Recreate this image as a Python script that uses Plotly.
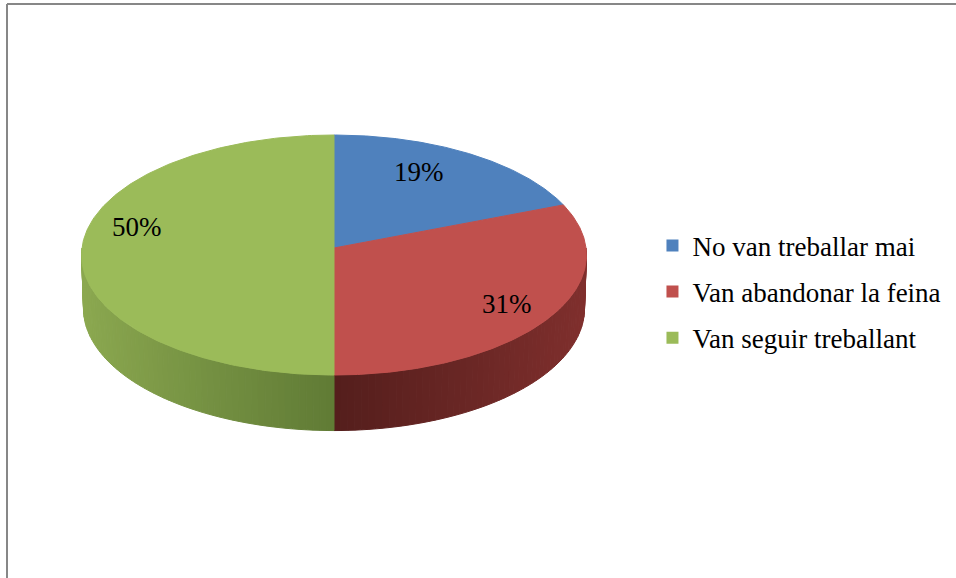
import numpy as np
import plotly.graph_objects as go

# ---------------- data ----------------
labels = ["No van treballar mai", "Van abandonar la feina", "Van seguir treballant"]
values = [19, 31, 50]
pct_text = ["19%", "31%", "50%"]

# ---------------- style ----------------
top_colors = ["#4F81BD", "#C0504D", "#9BBB59"]
wall_light = [(70, 115, 170), (128, 47, 45), (140, 169, 80)]
wall_dark = [(45, 75, 115), (84, 30, 28), (96, 123, 53)]
label_rfrac = [0.615, 0.81, 0.78]
label_dy = [-17, 0, -21]
FONT = "Liberation Serif"

W, H = 956, 578
CX, CY = 334, 248          # projected centre of the pie (pixels)
R = 252                    # radius (pixels)
SIN_A = 0.4746             # camera elevation
COS_A = float(np.sqrt(1 - SIN_A ** 2))
DIST = 3798                # perspective distance
DEPTH = 61                 # pie thickness


def proj(phi_deg, h=0.0, r=R):
    phi = np.radians(phi_deg)
    x3 = r * np.cos(phi)
    z3 = r * np.sin(phi)
    yv = z3 * SIN_A + h * COS_A
    d = z3 * COS_A - h * SIN_A
    s = DIST / (DIST + d)
    return CX + x3 * s, CY - yv * s


fig = go.Figure()

total = float(sum(values))
cum = np.concatenate([[0.0], np.cumsum(values)])
starts = 90 - 360 * cum[:-1] / total
ends = 90 - 360 * cum[1:] / total

# ---------------- side walls (front half only) ----------------
for i in range(len(values)):
    lo, hi = ends[i], starts[i]
    for k in (-360, 0, 360):
        a = max(lo, -180 + k)
        b = min(hi, 0 + k)
        if b <= a:
            continue
        n = max(2, int((b - a) / 1.5))
        edges = np.linspace(a, b, n + 1)
        for j in range(n):
            pa, pb = edges[j], edges[j + 1]
            arc = np.linspace(pa, pb, 4)
            xt, yt = proj(arc, 0)
            xb, yb = proj(arc[::-1], -DEPTH)
            xs = np.concatenate([xt, xb, xt[:1]])
            ys = np.concatenate([yt, yb, yt[:1]])
            t = abs(np.cos(np.radians((pa + pb) / 2)))
            c = tuple(int(round(wall_dark[i][m] + (wall_light[i][m] - wall_dark[i][m]) * t)) for m in range(3))
            col = "rgb(%d,%d,%d)" % c
            fig.add_trace(go.Scatter(x=xs, y=ys, mode="lines", fill="toself",
                                     fillcolor=col, line=dict(color=col, width=1),
                                     hoverinfo="skip", showlegend=False))

# ---------------- top faces ----------------
for i in range(len(values)):
    arc = np.linspace(starts[i], ends[i], 200)
    xa, ya = proj(arc, 0)
    xs = np.concatenate([[CX], xa, [CX]])
    ys = np.concatenate([[CY], ya, [CY]])
    fig.add_trace(go.Scatter(x=xs, y=ys, mode="lines", fill="toself",
                             fillcolor=top_colors[i], line=dict(color=top_colors[i], width=1),
                             name=labels[i], hoverinfo="name", showlegend=False))

# ---------------- legend entries ----------------
for i in range(len(values)):
    fig.add_trace(go.Scatter(x=[None], y=[None], mode="markers", name=labels[i],
                             legendgroup=labels[i],
                             marker=dict(symbol="square", size=12, color=top_colors[i])))

# ---------------- percentage labels ----------------
for i in range(len(values)):
    mid = (starts[i] + ends[i]) / 2
    lx, ly = proj(mid, 0, R * label_rfrac[i])
    fig.add_annotation(x=float(lx), y=float(ly + label_dy[i]), text=pct_text[i],
                       showarrow=False, xref="x", yref="y",
                       font=dict(family=FONT, size=27, color="black"))

fig.update_xaxes(range=[0, W], visible=False, fixedrange=True)
fig.update_yaxes(range=[H, 0], visible=False, fixedrange=True)

fig.update_layout(
    width=W, height=H,
    margin=dict(l=0, r=0, t=0, b=0),
    paper_bgcolor="white", plot_bgcolor="white",
    font=dict(family=FONT, size=27, color="black"),
    legend=dict(x=0.6825, xanchor="left", y=0.495, yanchor="middle",
                font=dict(family=FONT, size=27, color="black"),
                tracegroupgap=8, bgcolor="rgba(0,0,0,0)"),
    shapes=[
        dict(type="line", xref="paper", yref="paper", x0=7 / W, x1=1, y0=1 - 4 / H, y1=1 - 4 / H,
             line=dict(color="#878787", width=2)),
        dict(type="line", xref="paper", yref="paper", x0=7 / W, x1=7 / W, y0=0, y1=1 - 4 / H,
             line=dict(color="#878787", width=2)),
    ],
)

fig.write_html("out.html", config={"displayModeBar": False},
               post_script="document.body.style.margin='0';document.body.style.overflow='hidden';")
